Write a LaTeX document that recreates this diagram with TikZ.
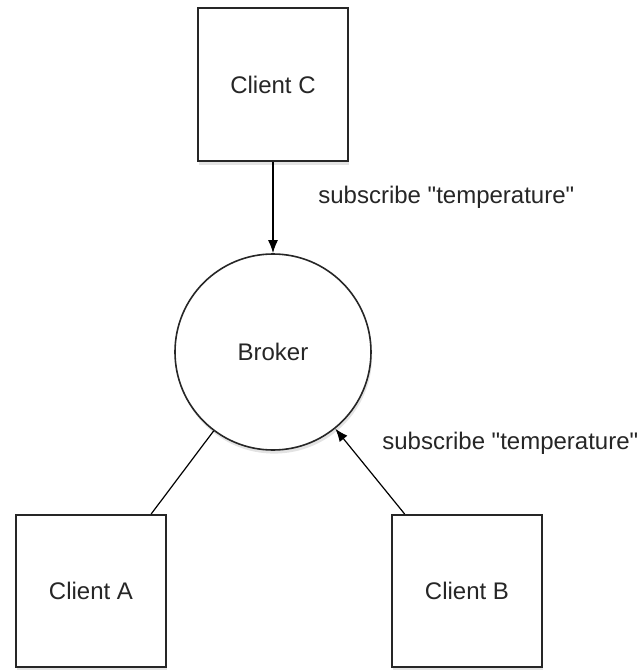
\documentclass[tikz,border=0pt]{standalone}
\usepackage{fontspec}
\setmainfont{Liberation Sans}[Ligatures=TeXOff]
\usepackage{tikz}
\usetikzlibrary{positioning,arrows.meta,shadows}

\begin{document}
\begin{tikzpicture}
		[client/.style={rectangle,draw=black!85,fill=white,line width=1pt,minimum width=75pt,minimum height=76pt,
			drop shadow={shadow xshift=0.6pt,shadow yshift=-1.8pt,opacity=0.22}},
		broker/.style={circle,draw=black!85,fill=white,line width=0.8pt,minimum size=98pt,inner sep=0pt,
			drop shadow={shadow xshift=0.6pt,shadow yshift=-1.8pt,opacity=0.22}},
		msg/.style={anchor=west,inner sep=0pt},
		>={Latex[length=6.5pt,width=5pt]},
		every node/.style={font=\fontsize{12}{14}\selectfont,text=black!85}]
		\useasboundingbox (-136.5pt,-159pt) rectangle (183.5pt,176pt);

		\node [broker] (brk) at (0,0) {Broker};
		\node [client,minimum height=76.5pt] (cc) [above=45.5pt of brk] {Client C};
		\node [client] (ca) at (-91pt,-119.5pt) {Client A};
		\node [client] (cb) at (97pt,-119.5pt) {Client B};

		\node [msg] (subc) at (22.5pt,77.5pt) {subscribe "temperature"};
		\node [msg] (subb) at (54.5pt,-45.5pt) {subscribe "temperature"};

		\draw [->,line width=0.7pt] (cc) to (brk);
		\draw [line width=0.6pt] (ca.52) -- (brk);
		\draw [->,line width=0.6pt] (cb.129) -- (brk);

	\end{tikzpicture}
\end{document}
